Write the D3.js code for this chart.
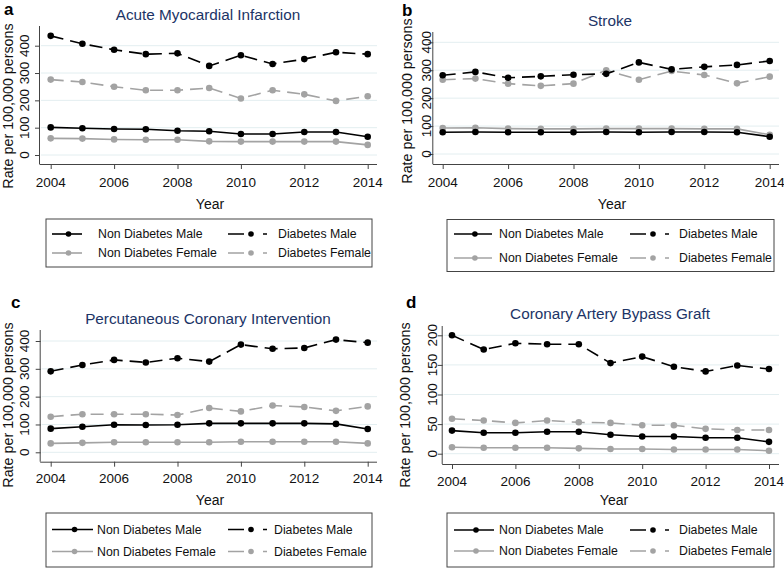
<!DOCTYPE html>
<html>
<head>
<meta charset="utf-8">
<script src="https://cdn.jsdelivr.net/npm/d3@7"></script>
<style>
  body { margin: 0; background: #fff; }
  svg { font-family: "Liberation Sans", Arial, sans-serif; }
</style>
</head>
<body>
<svg id="chart" width="784" height="568"></svg>
<script>
const years = [2004, 2005, 2006, 2007, 2008, 2009, 2010, 2011, 2012, 2013, 2014];
const xTicks = [2004, 2006, 2008, 2010, 2012, 2014];
const seriesNames = ['Non Diabetes Male', 'Diabetes Male', 'Non Diabetes Female', 'Diabetes Female'];

// a - Acute Myocardial Infarction
const amiNonDiabMale = [101, 98, 95, 94, 89, 87, 77, 77, 84, 84, 67];
const amiDiabMale = [436, 407, 385, 369, 372, 326, 365, 333, 351, 376, 369];
const amiNonDiabFemale = [61, 60, 57, 56, 56, 50, 49, 49, 49, 49, 37];
const amiDiabFemale = [276, 267, 250, 237, 237, 245, 207, 237, 222, 198, 215];

// b - Stroke
const strokeNonDiabMale = [78, 79, 78, 78, 78, 79, 78, 79, 79, 78, 62];
const strokeDiabMale = [282, 294, 273, 278, 284, 287, 328, 303, 312, 319, 333];
const strokeNonDiabFemale = [93, 94, 91, 90, 90, 91, 91, 91, 90, 90, 69];
const strokeDiabFemale = [266, 270, 252, 244, 252, 300, 266, 297, 283, 253, 277];

// c - Percutaneous Coronary Intervention
const pciNonDiabMale = [85, 92, 99, 98, 99, 104, 104, 104, 104, 102, 84];
const pciDiabMale = [291, 314, 332, 323, 338, 326, 387, 372, 375, 405, 394];
const pciNonDiabFemale = [32, 34, 36, 36, 36, 36, 38, 38, 38, 38, 32];
const pciDiabFemale = [128, 137, 137, 137, 134, 159, 147, 168, 163, 149, 165];

// d - Coronary Artery Bypass Graft
const cabgNonDiabMale = [39, 35.5, 35.5, 37, 37, 32, 29, 29, 27, 27, 20];
const cabgDiabMale = [200, 176, 186.5, 185, 185, 153, 164, 147, 139, 149, 143];
const cabgNonDiabFemale = [11, 10, 10, 10, 9, 8, 8, 7, 7, 7, 5];
const cabgDiabFemale = [59, 56, 52, 56, 53, 52, 48, 48, 42, 40, 40];

const ticks400 = [0, 100, 200, 300, 400];
const ticks200 = [0, 50, 100, 150, 200];

const styles = [
  { color: '#000', dash: null },
  { color: '#000', dash: '13,7' },
  { color: '#a3a3a3', dash: null },
  { color: '#a3a3a3', dash: '13,7' }
];

const panels = [
  { letter: 'a', title: 'Acute Myocardial Infarction', data: [amiNonDiabMale, amiDiabMale, amiNonDiabFemale, amiDiabFemale],
    yTicks: ticks400, yMax: 400,
    axX: 40, axTop: 26, axBottom: 164, axRight: 377, x0: 50.7, x1: 367.7, y0: 155, y1: 45.7,
    tickLabY: 182, yLabX: 24, titleX: 208, titleY: 14, letX: 4, letY: 15, rateX: 7.5, rateY: 106,
    yearX: 210, yearY: 204,
    leg: { x: 46, y: 219, w: 326, h: 48, r1: 234, r2: 253, l1: 52, l1w: 30, t1: 98, l2: 228, t2: 278 } },
  { letter: 'b', title: 'Stroke', data: [strokeNonDiabMale, strokeDiabMale, strokeNonDiabFemale, strokeDiabFemale],
    yTicks: ticks400, yMax: 400,
    axX: 433.3, axTop: 32, axBottom: 164, axRight: 779, x0: 442.7, x1: 769.7, y0: 154, y1: 42.3,
    tickLabY: 182, yLabX: 426, titleX: 610, titleY: 20, letX: 402, letY: 16, rateX: 407, rateY: 101,
    yearX: 612, yearY: 204,
    leg: { x: 447, y: 219.5, w: 327, h: 52, r1: 234, r2: 258, l1: 454, l1w: 38, t1: 499, l2: 630, t2: 679 } },
  { letter: 'c', title: 'Percutaneous Coronary Intervention', data: [pciNonDiabMale, pciDiabMale, pciNonDiabFemale, pciDiabFemale],
    yTicks: ticks400, yMax: 400,
    axX: 40.7, axTop: 330, axBottom: 461.7, axRight: 377, x0: 50.7, x1: 367.7, y0: 452.3, y1: 341,
    tickLabY: 478.5, yLabX: 24, titleX: 208, titleY: 318, letX: 11, letY: 308, rateX: 7.5, rateY: 405,
    yearX: 210, yearY: 499.5,
    leg: { x: 46, y: 513, w: 326, h: 54, r1: 529.5, r2: 551.5, l1: 52, l1w: 41, t1: 97, l2: 228, t2: 274 } },
  { letter: 'd', title: 'Coronary Artery Bypass Graft', data: [cabgNonDiabMale, cabgDiabMale, cabgNonDiabFemale, cabgDiabFemale],
    yTicks: ticks200, yMax: 200,
    axX: 442.7, axTop: 326, axBottom: 464, axRight: 779, x0: 452, x1: 769, y0: 453.7, y1: 335.3,
    tickLabY: 481.7, yLabX: 432, titleX: 610, titleY: 313.5, letX: 406, letY: 308, rateX: 404.5, rateY: 405,
    yearX: 614, yearY: 500,
    leg: { x: 447, y: 513, w: 327, h: 54, r1: 530, r2: 551, l1: 454, l1w: 40, t1: 499, l2: 630, t2: 679 } }
];

const svg = d3.select('#chart');

function drawPanel(p) {
  const g = svg.append('g');
  const x = d3.scaleLinear().domain([years[0], years[years.length - 1]]).range([p.x0, p.x1]);
  const y = d3.scaleLinear().domain([0, p.yMax]).range([p.y0, p.y1]);

  // grid
  g.selectAll('.grid').data(p.yTicks).join('line')
    .attr('x1', p.axX + 1).attr('x2', p.axRight)
    .attr('y1', d => y(d)).attr('y2', d => y(d))
    .attr('stroke', '#e3eef0').attr('stroke-width', 1);

  // axes
  const yAxis = d3.axisLeft(y).tickValues(p.yTicks).tickSize(5).tickFormat(d3.format('d'));
  const ya = g.append('g').attr('transform', `translate(${p.axX},0)`).call(yAxis);
  ya.select('.domain').attr('d', `M-0.5,${p.axTop}V${p.axBottom}`);
  ya.selectAll('text').remove();
  g.selectAll('.ylab').data(p.yTicks).join('text')
    .attr('transform', d => `translate(${p.yLabX},${y(d)}) rotate(-90)`)
    .attr('text-anchor', 'middle').attr('dominant-baseline', 'central')
    .attr('font-size', 13.5).attr('fill', '#111')
    .text(d => d);

  const xAxis = d3.axisBottom(x).tickValues(xTicks).tickSize(5).tickFormat(d3.format('d'));
  const xa = g.append('g').attr('transform', `translate(0,${p.axBottom})`).call(xAxis);
  xa.select('.domain').attr('d', `M${p.axX - 0.5},0.5H${p.axRight}`);
  xa.selectAll('text').remove();
  g.selectAll('.xlab').data(xTicks).join('text')
    .attr('x', d => x(d)).attr('y', p.tickLabY)
    .attr('text-anchor', 'middle').attr('dominant-baseline', 'central')
    .attr('font-size', 13.5).attr('fill', '#111')
    .text(d => d);
  g.selectAll('.domain, .tick line').attr('stroke', '#444');

  // series
  const line = d3.line().x((d, i) => x(years[i])).y(d => y(d));
  [2, 3, 0, 1].forEach(k => {
    const s = styles[k];
    g.append('path').datum(p.data[k])
      .attr('d', line).attr('fill', 'none')
      .attr('stroke', s.color).attr('stroke-width', 1.6)
      .attr('stroke-dasharray', s.dash);
    g.selectAll(null).data(p.data[k]).join('circle')
      .attr('cx', (d, i) => x(years[i])).attr('cy', d => y(d))
      .attr('r', 3.3).attr('fill', s.color);
  });

  // texts
  g.append('text').attr('x', p.titleX).attr('y', p.titleY)
    .attr('text-anchor', 'middle').attr('dominant-baseline', 'central')
    .attr('font-size', 15.3).attr('fill', '#1c3466').text(p.title);
  g.append('text').attr('x', p.letX).attr('y', p.letY)
    .attr('font-size', 17).attr('font-weight', 'bold').attr('fill', '#000').text(p.letter);
  g.append('text').attr('transform', `translate(${p.rateX},${p.rateY}) rotate(-90)`)
    .attr('text-anchor', 'middle').attr('dominant-baseline', 'central')
    .attr('font-size', 14.3).attr('fill', '#111').text('Rate per 100,000 persons');
  g.append('text').attr('x', p.yearX).attr('y', p.yearY)
    .attr('text-anchor', 'middle').attr('dominant-baseline', 'central')
    .attr('font-size', 14).attr('fill', '#111').text('Year');

  // legend
  const L = p.leg;
  g.append('rect').attr('x', L.x).attr('y', L.y).attr('width', L.w).attr('height', L.h)
    .attr('fill', 'none').attr('stroke', '#444').attr('stroke-width', 1);
  const items = seriesNames.map((name, k) => ({ name, k }));
  items.forEach(it => {
    const s = styles[it.k];
    const row = it.k < 2 ? L.r1 : L.r2;
    const solid = it.k % 2 === 0;
    const lx = solid ? L.l1 : L.l2;
    const lw = solid ? L.l1w : 39;
    const mx = solid ? lx + lw * 0.55 : lx + 23;
    g.append('line').attr('x1', lx).attr('x2', lx + lw).attr('y1', row).attr('y2', row)
      .attr('stroke', s.color).attr('stroke-width', 1.6)
      .attr('stroke-dasharray', solid ? null : '16,19,4');
    g.append('circle').attr('cx', mx).attr('cy', row).attr('r', 2.8).attr('fill', s.color);
    g.append('text').attr('x', solid ? L.t1 : L.t2).attr('y', row)
      .attr('dominant-baseline', 'central').attr('font-size', 12.3).attr('fill', '#111')
      .text(it.name);
  });
}

panels.forEach(drawPanel);
</script>
</body>
</html>
